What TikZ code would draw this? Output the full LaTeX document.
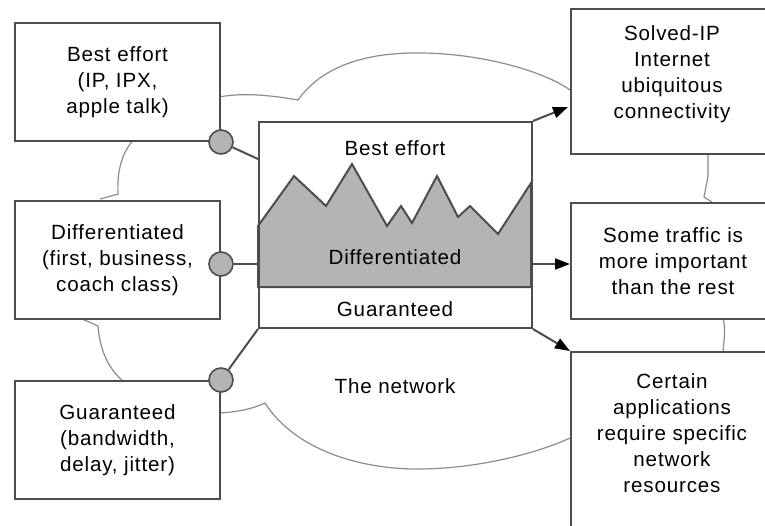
\documentclass[tikz,border=0pt]{standalone}
\usepackage{fontspec}
\setmainfont{Liberation Sans}[LetterSpace=4]
\usetikzlibrary{arrows.meta,calc}

\definecolor{edgegray}{HTML}{4D4D4D}
\definecolor{cloudgray}{HTML}{8C8C8C}
\definecolor{fillgray}{HTML}{B4B4B4}

\tikzset{
  box/.style={draw=edgegray, line width=1pt, fill=white, inner sep=0pt, align=center, anchor=north west},
  lbl/.style={inner sep=0pt, align=center},
  port/.style={circle, draw=edgegray, line width=0.8pt, fill=fillgray, minimum size=12pt, inner sep=0pt},
  cloud/.style={draw=cloudgray, line width=0.6pt},
  link/.style={draw=edgegray, line width=1pt},
}

\begin{document}
\begin{tikzpicture}[x=0.5pt, y=-0.5pt, >={Triangle[length=7.5pt,width=5.5pt,color=black]}, font=\fontsize{10.3}{13}\selectfont]

    \useasboundingbox (0,0) rectangle (765,525);
    \clip (0,0) rectangle (765,525);

    % 1. the network (cloud outline)
    \draw[cloud] (219,97) .. controls (245,92) and (275,96) .. (298,100)
        .. controls (325,62) and (375,52) .. (423,53)
        .. controls (485,54) and (545,72) .. (570,90);
    \draw[cloud] (133,140) .. controls (121,155) and (117,172) .. (118,194) -- (100,199);
    \draw[cloud] (80,318) -- (98,326) .. controls (100,350) and (108,368) .. (122,380);
    \draw[cloud] (219,413) .. controls (238,412) and (252,409) .. (265,403)
        .. controls (295,450) and (360,469) .. (417,469)
        .. controls (480,469) and (540,452) .. (570,438);
    \draw[cloud] (708,153) -- (708,176) -- (704,197) -- (712,202);
    \draw[cloud] (723,318) .. controls (726,330) and (724,340) .. (723,351);

    % 2. service classes (left)
    \node[box, minimum width=102.5pt, minimum height=59pt] (be) at (14,22) {Best effort\\(IP, IPX,\\apple talk)};
    \node[box, minimum width=102.5pt, minimum height=59pt] (df) at (14,200) {Differentiated\\(first, business,\\coach class)};
    \node[box, minimum width=102.5pt, minimum height=59pt] (gu) at (14,380) {Guaranteed\\(bandwidth,\\delay, jitter)};

    % 3. results (right)
    \node[box, minimum width=102pt, minimum height=72.5pt] (sip) at (570,8) {};
    \node[lbl] (sipt) at (672,74) {Solved-IP\\Internet\\ubiquitous\\connectivity};
    \node[box, minimum width=102pt, minimum height=58pt] (st) at (570,202) {Some traffic is\\more important\\than the rest};
    \node[box, minimum width=102pt, minimum height=95pt] (ce) at (570,351) {};
    \node[lbl] (cet) at (672,433) {Certain\\applications\\require specific\\network\\resources};

    % 4. traffic mix in the middle
    \filldraw[fill=fillgray, draw=edgegray, line width=1pt]
        (258,226) -- (294,176) -- (326,206) -- (352,164) -- (387,226) -- (401,206)
        -- (412,223) -- (437,176) -- (458,217) -- (470,206) -- (498,234) -- (531,183)
        -- (531,287) -- (258,287) -- cycle;
    \node[box, fill=none, minimum width=136.5pt, minimum height=103pt] (cb) at (258,121) {};
    \node[lbl] (tbe) at (395,148) {Best effort};
    \node[lbl] (tdf) at (395,257) {Differentiated};
    \node[lbl] (tgu) at (395,309) {Guaranteed};
    \node[lbl] (tnet) at (395,386) {The network};

    % 5. ports and connectors
    \node[port] (p1) at (be.south east) {};
    \node[port] (p2) at ($(df.east)+(0,4)$) {};
    \node[port] (p3) at (gu.north east) {};
    \draw[link] (p1) -- ($(cb.north west)+(0,38)$);
    \draw[link] (p2) -- (cb.west |- p2);
    \draw[link] (p3) -- (cb.south west);

    \draw[link, ->] (cb.north east) -- ($(sip.south west)+(-2,-48)$);
    \draw[link, ->] (cb.east |- p2) -- (st.west |- p2);
    \draw[link, ->] (cb.south east) -- (ce.north west);
\end{tikzpicture}
\end{document}
